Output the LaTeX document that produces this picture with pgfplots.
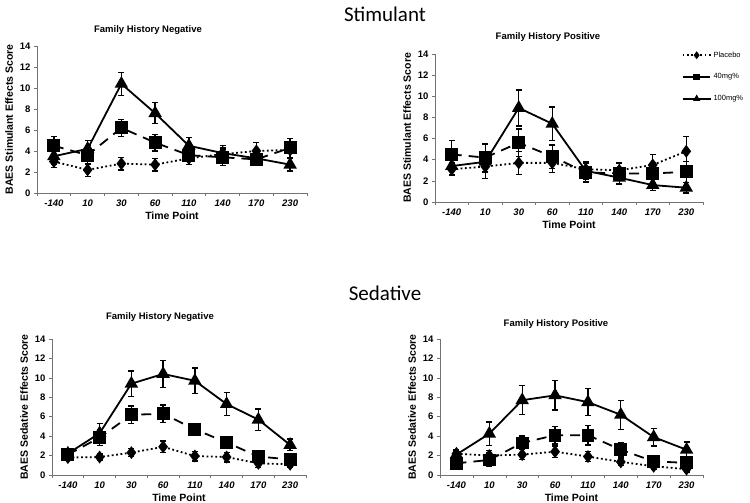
\documentclass[border=0pt]{standalone}
\usepackage{fontspec}
\setmainfont{Liberation Sans}
\newfontfamily\calibri{Carlito}
\usepackage{pgfplots}
\pgfplotsset{compat=1.18}

\pgfplotsset{
  panel/.style={
    scale only axis, anchor=south west,
    axis lines=left, axis line style={-, black!55, line width=0.6pt},
    ymin=0, ymax=14, ytick={0,2,...,14},
    xmin=-0.5, xmax=7.5,
    xtick={0,...,7}, xticklabels={-140,10,30,60,110,140,170,230},
    minor xtick={-0.5,0.5,...,7.5},
    major x tick style={draw=none},
    tick align=outside, major tick length=3pt, minor tick length=3pt,
    tick style={black!55, line width=0.5pt},
    /pgf/number format/assume math mode=true,
    xticklabel style={font=\fontsize{9.5}{10}\selectfont\bfseries\itshape},
    yticklabel style={font=\fontsize{9.5}{10}\selectfont\bfseries},
    label style={font=\fontsize{10.5}{12}\selectfont\bfseries},
    xlabel={Time Point}, xlabel style={yshift=1pt},
    clip=false,
  },
  ebar/.style={error bars/.cd, y dir=both, y explicit, error mark=-,
    error bar style={solid, line width=1.3pt, black},
    error mark options={rotate=90, solid, line width=1.3pt, mark size=3pt, black}},
  pl/.style={black, line width=1.8pt, dash pattern=on 1.8pt off 2.6pt,
    mark=diamond*, mark size=5pt, mark options={solid}, ebar},
  mg40/.style={black, line width=1.8pt, dash pattern=on 10pt off 7pt,
    mark=square*, mark size=5.5pt, mark options={solid}, ebar},
  mg100/.style={black, line width=1.8pt, solid,
    mark=triangle*, mark size=6pt, ebar},
}

\begin{document}
\begin{tikzpicture}
\path[use as bounding box] (0pt,0pt) rectangle (750pt,503pt);

\node[font=\calibri\fontsize{21}{24}\selectfont] at (385pt,489pt) {Stimulant};
\node[font=\calibri\fontsize{21}{24}\selectfont] at (385pt,210pt) {Sedative};
\node[font=\fontsize{9.5}{11}\selectfont\bfseries] at (148pt,473pt) {Family History Negative};
\node[font=\fontsize{9.5}{11}\selectfont\bfseries] at (548pt,466pt) {Family History Positive};
\node[font=\fontsize{9.5}{11}\selectfont\bfseries] at (160pt,186pt) {Family History Negative};
\node[font=\fontsize{9.5}{11}\selectfont\bfseries] at (556pt,179pt) {Family History Positive};

% Stimulant, family history negative
\begin{axis}[panel, at={(37pt,310pt)}, width=270pt, height=147pt,
  ylabel={BAES Stimulant Effects Score}]
\addplot[pl] table[x index=0, y index=1, y error index=2] {
0 3.0 0.6
1 2.2 0.6
2 2.8 0.6
3 2.7 0.6
4 3.3 0.6
5 3.7 0.6
6 4.0 0.8
7 4.1 0.8
};
\addplot[mg40] table[x index=0, y index=1, y error index=2] {
0 4.5 0.9
1 3.6 0.9
2 6.2 0.8
3 4.8 0.8
4 3.6 0.6
5 3.4 0.8
6 3.2 0.6
7 4.3 0.9
};
\addplot[mg100] table[x index=0, y index=1, y error index=2] {
0 3.5 0.8
1 4.2 0.8
2 10.4 1.1
3 7.6 1.0
4 4.5 0.8
5 3.8 0.7
6 3.3 0.6
7 2.7 0.6
};
\end{axis}

% Stimulant, family history positive
\begin{axis}[panel, at={(435pt,301pt)}, width=268pt, height=148pt,
  ylabel={BAES Stimulant Effects Score},
  legend style={at={(axis description cs:0.92,1.03)}, anchor=north west,
    draw=none, fill=none, inner sep=0pt, row sep=11pt,
    font=\fontsize{7.5}{9}\selectfont, cells={anchor=west}},
  legend image code/.code={\draw[mark repeat=2, mark phase=2, #1, mark size=2.5pt]
    plot coordinates {(0pt,0pt) (14pt,0pt) (28pt,0pt)};}]
\addplot[pl] table[x index=0, y index=1, y error index=2] {
0 3.1 0.6
1 3.35 1.1
2 3.7 1.1
3 3.7 0.9
4 3.1 0.7
5 3.0 0.7
6 3.5 1.0
7 4.8 1.4
};
\addlegendentry{Placebo}
\addplot[mg40] table[x index=0, y index=1, y error index=2] {
0 4.5 1.3
1 4.2 1.3
2 5.6 1.3
3 4.3 1.1
4 2.8 0.9
5 2.7 1.0
6 2.7 1.0
7 2.85 1.0
};
\addlegendentry{40mg\%}
\addplot[mg100] table[x index=0, y index=1, y error index=2] {
0 3.4 0.8
1 3.8 1.0
2 8.9 1.7
3 7.4 1.6
4 2.95 0.8
5 2.3 0.6
6 1.6 0.5
7 1.35 0.5
};
\addlegendentry{100mg\%}
\end{axis}

% Sedative, family history negative
\begin{axis}[panel, at={(52pt,28pt)}, width=254pt, height=136pt,
  ylabel={BAES Sedative Effects Score}]
\addplot[pl] table[x index=0, y index=1, y error index=2] {
0 1.8 0.3
1 1.85 0.3
2 2.3 0.4
3 2.9 0.6
4 1.95 0.5
5 1.85 0.5
6 1.2 0.4
7 1.1 0.3
};
\addplot[mg40] table[x index=0, y index=1, y error index=2] {
0 2.1 0.4
1 3.85 0.8
2 6.2 0.9
3 6.3 0.9
4 4.7 0.6
5 3.35 0.5
6 1.9 0.5
7 1.6 0.6
};
\addplot[mg100] table[x index=0, y index=1, y error index=2] {
0 2.2 0.4
1 4.3 1.0
2 9.4 1.3
3 10.4 1.4
4 9.7 1.3
5 7.3 1.2
6 5.7 1.1
7 3.1 0.6
};
\end{axis}

% Sedative, family history positive
\begin{axis}[panel, at={(440pt,28pt)}, width=263pt, height=136pt,
  ylabel={BAES Sedative Effects Score}]
\addplot[pl] table[x index=0, y index=1, y error index=2] {
0 2.2 0.4
1 2.0 0.5
2 2.1 0.5
3 2.4 0.6
4 1.9 0.5
5 1.35 0.4
6 0.9 0.3
7 0.6 0.3
};
\addplot[mg40] table[x index=0, y index=1, y error index=2] {
0 1.2 0.4
1 1.55 0.7
2 3.3 0.7
3 4.1 0.9
4 4.1 1.0
5 2.6 0.7
6 1.4 0.5
7 1.25 0.6
};
\addplot[mg100] table[x index=0, y index=1, y error index=2] {
0 2.1 0.4
1 4.25 1.2
2 7.7 1.5
3 8.2 1.5
4 7.5 1.4
5 6.2 1.5
6 3.9 0.9
7 2.6 0.8
};
\end{axis}
\end{tikzpicture}
\end{document}
